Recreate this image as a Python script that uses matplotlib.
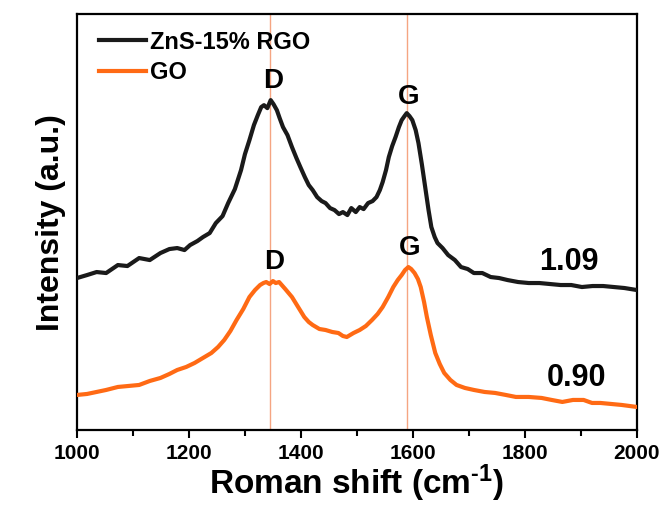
import numpy as np
import matplotlib.pyplot as plt
from matplotlib.ticker import MultipleLocator

# ========================= Data =========================
rgo_shift = [1000, 1018, 1035, 1052, 1073, 1090, 1111, 1130, 1149, 1165, 1179, 1192,
             1202, 1215, 1225, 1237, 1248, 1260, 1270, 1282, 1293, 1300, 1308, 1316,
             1323, 1329, 1334, 1340, 1346, 1351, 1357, 1362, 1368, 1376, 1384, 1392,
             1399, 1407, 1414, 1421, 1429, 1437, 1444, 1452, 1460, 1468, 1475, 1483,
             1490, 1498, 1505, 1512, 1520, 1528, 1535, 1541, 1546, 1552, 1557, 1563,
             1569, 1575, 1580, 1585, 1589, 1594, 1599, 1605, 1610, 1616, 1622, 1628,
             1633, 1639, 1644, 1653, 1663, 1675, 1686, 1698, 1709, 1724, 1739, 1754,
             1769, 1788, 1807, 1826, 1845, 1864, 1883, 1902, 1921, 1940, 1959, 1978, 2000]
rgo_int = [152, 155, 158, 157, 165, 164, 172, 170, 177, 181, 182, 180,
           185, 189, 193, 197, 207, 214, 227, 241, 260, 276, 290, 305,
           315, 323, 325, 322, 330, 326, 320, 312, 303, 295, 283, 272,
           263, 253, 245, 240, 233, 229, 227, 222, 220, 216, 218, 215,
           222, 218, 223, 221, 227, 229, 233, 240, 248, 260, 273, 284,
           293, 303, 310, 314, 317, 314, 310, 300, 287, 266, 243, 220,
           203, 193, 187, 182, 175, 170, 163, 161, 157, 157, 153, 152,
           150, 148, 147, 147, 146, 145, 145, 143, 144, 144, 143, 142, 140]

go_shift = [1000, 1018, 1035, 1052, 1073, 1092, 1111, 1130, 1149, 1165, 1179, 1195,
            1210, 1225, 1240, 1252, 1263, 1274, 1285, 1297, 1308, 1318, 1327, 1333,
            1338, 1344, 1350, 1355, 1361, 1372, 1384, 1395, 1406, 1414, 1421, 1433,
            1444, 1456, 1467, 1475, 1482, 1494, 1505, 1516, 1527, 1537, 1546, 1556,
            1565, 1573, 1580, 1586, 1592, 1597, 1603, 1609, 1614, 1620, 1625, 1632,
            1640, 1648, 1656, 1667, 1678, 1693, 1709, 1728, 1747, 1766, 1784, 1807,
            1830, 1848, 1867, 1886, 1905, 1920, 1935, 1954, 1973, 2000]
go_int = [35, 36, 38, 40, 43, 44, 45, 49, 52, 56, 60, 63,
          67, 72, 77, 83, 90, 99, 110, 121, 133, 140, 145, 147,
          148, 146, 149, 147, 148, 141, 133, 123, 113, 108, 105, 101,
          100, 98, 97, 94, 93, 97, 100, 104, 110, 116, 123, 133,
          143, 150, 155, 160, 163, 161, 157, 151, 143, 128, 113, 95,
          77, 66, 57, 50, 45, 42, 40, 38, 37, 35, 33, 33,
          32, 30, 28, 30, 30, 27, 27, 26, 25, 23]

peak_lines = [1345, 1590]
legend_names = ['ZnS-15% RGO', 'GO']
ratio_labels = ['1.09', '0.90']

# ========================= Plot =========================
plt.rcParams['font.family'] = ['Liberation Sans', 'DejaVu Sans']
plt.rcParams['font.weight'] = 'bold'
plt.rcParams['mathtext.default'] = 'regular'

fig = plt.figure(figsize=(6.64, 5.07), dpi=100)
ax = fig.add_axes([0.116, 0.152, 0.843, 0.820])

for xv in peak_lines:
    ax.axvline(xv, color='#f5a582', lw=1.0, zorder=1)

ax.plot(rgo_shift, rgo_int, color='#1a1a1a', lw=3.0, label=legend_names[0], zorder=3)
ax.plot(go_shift, go_int, color='#ff6a14', lw=3.0, label=legend_names[1], zorder=3)

# peak labels
ax.text(1350, 336, 'D', ha='center', va='bottom', fontsize=20)
ax.text(1592, 320, 'G', ha='center', va='bottom', fontsize=20)
ax.text(1352, 155, 'D', ha='center', va='bottom', fontsize=20)
ax.text(1594, 169, 'G', ha='center', va='bottom', fontsize=20)
ax.text(1878, 168, ratio_labels[0], ha='center', va='center', fontsize=22)
ax.text(1892, 52, ratio_labels[1], ha='center', va='center', fontsize=22)

ax.set_xlim(1000, 2000)
ax.set_ylim(0, 416)
ax.xaxis.set_major_locator(MultipleLocator(200))
ax.xaxis.set_minor_locator(MultipleLocator(100))
ax.set_yticks([])
ax.tick_params(axis='x', which='major', direction='out', length=6, width=1.5,
               labelsize=15, pad=4)
ax.tick_params(axis='x', which='minor', direction='out', length=4, width=1.5)
ax.tick_params(top=False, right=False)
for sp in ax.spines.values():
    sp.set_linewidth(1.6)

ax.set_xlabel('Roman shift (cm$^{\u2010 1}$)', fontsize=24, fontweight='bold', labelpad=0)
ax.set_ylabel('Intensity (a.u.)', fontsize=23, fontweight='bold', labelpad=8)

leg = ax.legend(loc='upper left', frameon=False, fontsize=17, handlelength=2.0,
                handletextpad=0.15, borderaxespad=0.3, labelspacing=0.3,
                bbox_to_anchor=(0.01, 1.0))

fig.savefig('out.png', dpi=100)
